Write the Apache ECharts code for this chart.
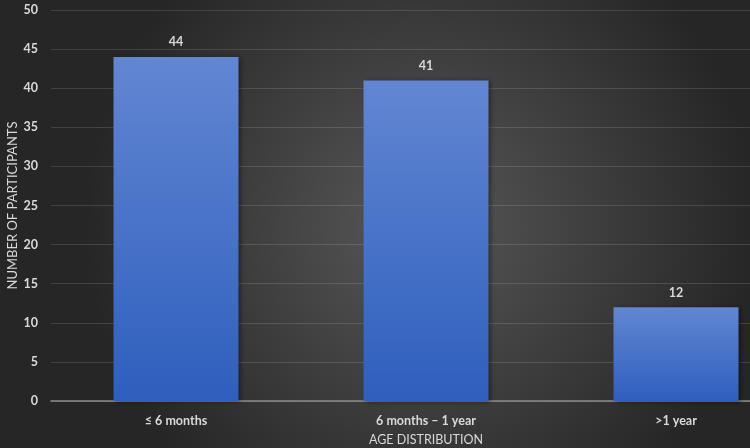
<!DOCTYPE html>
<html>
<head>
<meta charset="utf-8">
<script src="https://cdn.jsdelivr.net/npm/echarts@6/dist/echarts.min.js"></script>
<style>html,body{margin:0;padding:0;background:#333;}#c{width:750px;height:448px;}</style>
</head>
<body>
<div id="c"></div>
<script>
const categories = ['≤ 6 months', '6 months – 1 year', '>1 year'];
const participants = [44, 41, 12];
const yTicks = [0, 5, 10, 15, 20, 25, 30, 35, 40, 45, 50];

const chart = echarts.init(document.getElementById('c'));
const font = 'Lato, "Open Sans", sans-serif';
chart.setOption({
  backgroundColor: {
    type: 'radial', x: 0.56, y: 0.5, r: 0.75,
    colorStops: [{offset: 0, color: '#585858'}, {offset: 1, color: '#262626'}]
  },
  animation: false,
  grid: {left: 51, right: -51, top: 10, bottom: 47, containLabel: false, outerBoundsMode: 'none'},
  xAxis: {
    type: 'category',
    data: categories,
    name: 'AGE DISTRIBUTION',
    nameLocation: 'middle',
    nameGap: 32,
    nameMoveOverlap: false,
    nameTextStyle: {color: '#d9d9d9', fontSize: 12.5, fontFamily: font},
    axisLine: {lineStyle: {color: '#8c8c8c', width: 1.5}},
    axisTick: {show: false},
    axisLabel: {color: '#d9d9d9', fontSize: 12.5, fontWeight: 'bold', fontFamily: font, margin: 13}
  },
  yAxis: {
    type: 'value',
    min: yTicks[0], max: yTicks[yTicks.length - 1], interval: 5,
    name: 'NUMBER OF PARTICIPANTS',
    nameLocation: 'middle',
    nameGap: 32,
    nameMoveOverlap: false,
    nameTextStyle: {color: '#d9d9d9', fontSize: 13, fontFamily: font},
    axisLine: {show: false},
    axisTick: {show: false},
    axisLabel: {color: '#d9d9d9', fontSize: 12.5, fontWeight: 'bold', fontFamily: font, margin: 13},
    splitLine: {lineStyle: {color: 'rgba(255,255,255,0.13)', width: 1}}
  },
  series: [{
    type: 'bar',
    data: participants,
    barWidth: '50%',
    itemStyle: {
      color: {
        type: 'linear', x: 0, y: 0, x2: 0, y2: 1,
        colorStops: [{offset: 0, color: '#6286d2'}, {offset: 1, color: '#2e5fbd'}]
      },
      shadowColor: 'rgba(0,0,0,0.45)', shadowBlur: 5, shadowOffsetX: 2, shadowOffsetY: 1
    },
    label: {
      show: true, position: 'top', distance: 8,
      color: '#d9d9d9', fontSize: 12.5, fontWeight: 'bold', fontFamily: font
    }
  }]
});
</script>
</body>
</html>
